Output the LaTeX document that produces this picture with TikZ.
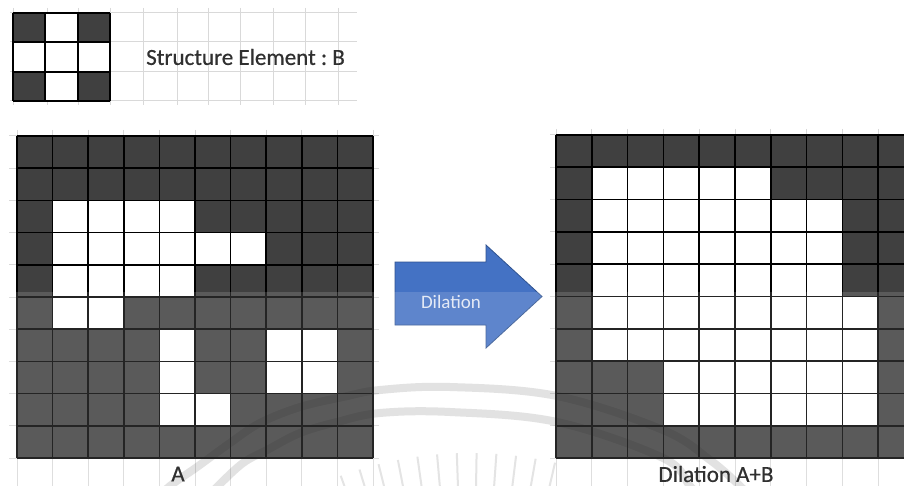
\documentclass[tikz,border=0pt]{standalone}
\usepackage{fontspec}
\setmainfont{Carlito}
\newfontfamily\lblfont{Carlito}[FakeBold=0.6]
\usetikzlibrary{calc}
\definecolor{cellgray}{HTML}{404040}
\definecolor{faintgray}{HTML}{D9D9D9}
\definecolor{arrowblue}{HTML}{4472C4}
\definecolor{arrowedge}{HTML}{2F528F}
\definecolor{labeltext}{HTML}{303030}
\definecolor{arrowtext}{HTML}{E4EAF6}
\frenchspacing
\begin{document}
\begin{tikzpicture}[x=1pt,y=-1pt,
  faintline/.style={draw=faintgray,line width=1pt},
  gridline/.style={draw=black,line width=1.7pt},
  segridline/.style={draw=black,line width=2pt},
  watermark/.style={draw=black,draw opacity=0.13,line width=8pt,line cap=round},
  wmray/.style={draw=black,draw opacity=0.12,line width=2pt},
  arrowshape/.style={fill=arrowblue,draw=arrowedge,line width=0.8pt,line join=miter},
  lbl/.style={font=\lblfont\fontsize{23}{27}\selectfont,text=labeltext,inner sep=0pt}]
\useasboundingbox (0,0) rectangle (904,486);
\fill[white] (0,0) rectangle (904,486);
\begin{scope}
\clip (0,0) rectangle (904,486);

% faint background sheet grid (top)
\foreach \y in {13,42,72,101} \draw[faintline] (10,\y) -- (357,\y);
\foreach \x in {13,47,78,110,143,177,208,240,273,305,338} \draw[faintline] (\x,8) -- (\x,105);

% faint ticks around the grids
\foreach \k in {0,...,10} {
  \draw[faintline] (9,{136+32.2*\k}) -- (17,{136+32.2*\k});
  \draw[faintline] (373,{136+32.2*\k}) -- (379,{136+32.2*\k});
  \draw[faintline] ({17+35.6*\k},130) -- ({17+35.6*\k},136);
  \draw[faintline] ({17+35.6*\k},458) -- ({17+35.6*\k},486);
  \draw[faintline] (550,{135+32.3*\k}) -- (556,{135+32.3*\k});
  \draw[faintline] ({556+35.8*\k},129) -- ({556+35.8*\k},135);
  \draw[faintline] ({556+35.8*\k},458) -- ({556+35.8*\k},486);
}

% structure element B
\begin{scope}[shift={(13pt,-13pt)},x=32.33pt,y=-29.33pt]
  \fill[white] (0,0) rectangle (3,3);
  \foreach \i/\j in {0/0,2/0,0/2,2/2} \fill[cellgray] (\i,\j) rectangle ++(1,1);
  \foreach \k in {0,...,3} {
    \draw[segridline] (\k,0) -- (\k,3);
    \draw[segridline] (0,\k) -- (3,\k);
  }
\end{scope}

% grid A
\begin{scope}[shift={(17pt,-136pt)},x=35.6pt,y=-32.2pt]
  \fill[cellgray] (0,0) rectangle (10,10);
  \fill[white] (1,2) rectangle (5,3);
  \fill[white] (1,3) rectangle (7,4);
  \fill[white] (1,4) rectangle (5,5);
  \fill[white] (1,5) rectangle (3,6);
  \fill[white] (4,6) rectangle (5,8);
  \fill[white] (7,6) rectangle (9,8);
  \fill[white] (4,8) rectangle (6,9);
  \foreach \k in {0,...,10} {
    \draw[gridline] (\k,0) -- (\k,10);
    \draw[gridline] (0,\k) -- (10,\k);
  }
\end{scope}

% grid Dilation A+B
\begin{scope}[shift={(556pt,-135pt)},x=35.8pt,y=-32.3pt]
  \fill[cellgray] (0,0) rectangle (10,10);
  \fill[white] (1,1) rectangle (6,2);
  \fill[white] (1,2) rectangle (8,5);
  \fill[white] (1,5) rectangle (9,7);
  \fill[white] (3,7) rectangle (9,9);
  \foreach \k in {0,...,10} {
    \draw[gridline] (\k,0) -- (\k,10);
    \draw[gridline] (0,\k) -- (10,\k);
  }
\end{scope}

% arrow
\draw[arrowshape] (395,262) -- (486,262) -- (486,245) -- (542,296.5)
  -- (486,348) -- (486,325) -- (395,325) -- cycle;

% watermark seal arcs and rays
\draw[watermark] plot[smooth,tension=0.6] coordinates {(150,505) (170,486) (197,467) (230,443) (260,423) (300,407) (343,397) (380,390) (450,387) (557,396) (663,430) (710,460) (740,486) (758,505)};
\draw[watermark] plot[smooth,tension=0.6] coordinates {(200,505) (218,486) (243,463) (267,450) (300,433) (337,422) (380,413) (450,412) (557,422) (663,458) (690,486) (705,505)};
\foreach \a in {70,73,...,103} \draw[wmray] ($(470,831)+(\a:-340)$) -- ($(470,831)+(\a:-378)$);

% lighter lower band of the picture
\fill[white,opacity=0.14] (0,292) rectangle (904,486);
\end{scope}

% labels
\node[lbl,anchor=west] (labB) at (146,57) {Structure Element : B};
\node[lbl] (labA) at (178,474) {A};
\node[lbl] (labAB) at (716,474) {Dilation A+B};
\node[font=\fontsize{19}{22}\selectfont,text=arrowtext,inner sep=0pt] (labDil) at (451,302) {Dilation};
\end{tikzpicture}
\end{document}
